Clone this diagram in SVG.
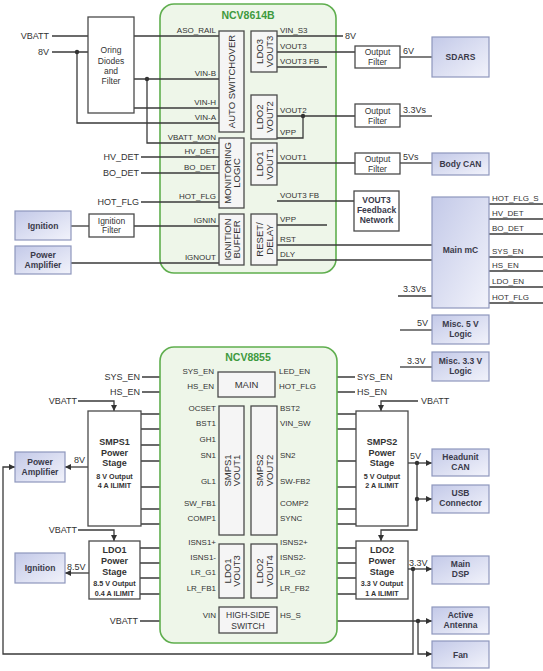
<svg xmlns="http://www.w3.org/2000/svg" width="543" height="671" viewBox="0 0 543 671">
<defs>
<linearGradient id="bg" x1="0" y1="0" x2="1" y2="1">
<stop offset="0" stop-color="#c3c9e8"/>
<stop offset="1" stop-color="#f2f3fb"/>
</linearGradient>
<marker id="ah" viewBox="0 0 7 7" refX="7" refY="3.5" markerWidth="6" markerHeight="6" markerUnits="userSpaceOnUse" orient="auto">
<path d="M0,0 L7,3.5 L0,7 Z" fill="#333"/>
</marker>
<style>
.ln{fill:none;stroke:#3a3a3a;stroke-width:1.3}
.ar{marker-end:url(#ah)}
.dot{fill:#333}
.chip{fill:#eef6e9;stroke:#5fae4e;stroke-width:1.6}
.blk{fill:#f5f5f5;stroke:#4a4a4a;stroke-width:1.3}
.wb{fill:#fff;stroke:#4a4a4a;stroke-width:1.3}
.bb{fill:url(#bg);stroke:#8e97bd;stroke-width:1.2}
text{font-family:"Liberation Sans",Arial,sans-serif;fill:#333}
.p{font-size:8px}
.pe{font-size:8px;text-anchor:end}
.o{font-size:9px}
.oe{font-size:9px;text-anchor:end}
.c{font-size:8.5px;text-anchor:middle}
.bc{font-size:8.5px;text-anchor:middle;font-weight:bold;fill:#3a3a4a}
.r{font-size:9.5px;text-anchor:middle}
.ps{font-size:9px;text-anchor:middle;font-weight:bold}
.pss{font-size:7.2px;text-anchor:middle;font-weight:bold}
.t{font-size:10.5px;font-weight:bold;fill:#3e9a3e;text-anchor:middle}
</style>
</defs>

<!-- ===== TOP CHIP NCV8614B ===== -->
<g id="ncv8614b">
<rect class="chip" x="160" y="4" width="176" height="269" rx="14"/>
<text class="t" x="248" y="19">NCV8614B</text>
</g>

<g id="connectors">
<!-- top left inputs -->
<path class="ln" d="M52,36 H88"/>
<path class="ln" d="M52,52 H88"/>
<path class="ln" d="M77,52 V123 H219"/>
<path class="ln" d="M134,36 H219"/>
<path class="ln" d="M134,79 H219"/>
<path class="ln" d="M147,79 V143 H219"/>
<path class="ln" d="M134,108 H219"/>
<path class="ln" d="M141,157 H219"/>
<path class="ln" d="M141,173 H219"/>
<path class="ln" d="M141,202 H219"/>
<path class="ln" d="M71,226 H89"/>
<path class="ln" d="M134,226 H219"/>
<path class="ln" d="M71,263 H219"/>
<!-- top right -->
<path class="ln" d="M277,36 H343"/>
<path class="ln" d="M277,52 H355"/>
<path class="ln" d="M277,67 H327"/>
<path class="ln" d="M277,116 H355"/>
<path class="ln" d="M277,138 H303 V116"/>
<path class="ln" d="M277,163 H355"/>
<path class="ln" d="M277,201 H354"/>
<path class="ln" d="M277,225 H327"/>
<path class="ln" d="M277,245 H432"/>
<path class="ln" d="M277,260 H432"/>
<path class="ln" d="M400,57 H432"/>
<path class="ln" d="M400,116 H432"/>
<path class="ln" d="M400,163 H432"/>
<path class="ln" d="M489,204 H543"/>
<path class="ln" d="M489,219 H543"/>
<path class="ln" d="M489,234 H543"/>
<path class="ln" d="M489,257 H543"/>
<path class="ln" d="M489,271 H543"/>
<path class="ln" d="M489,287 H543"/>
<path class="ln" d="M489,303 H543"/>
<path class="ln" d="M398,296 H432"/>
<path class="ln" d="M400,330 H432"/>
<path class="ln" d="M400,367 H432"/>
<circle class="dot" cx="77" cy="52" r="2.2"/>
<circle class="dot" cx="147" cy="79" r="2.2"/>
<circle class="dot" cx="303" cy="116" r="2.2"/>

<!-- lower chip -->
<path class="ln" d="M142,377 H218"/>
<path class="ln" d="M142,392 H218"/>
<path class="ln" d="M275,377 H355"/>
<path class="ln" d="M275,392 H355"/>
<path class="ln ar" d="M78,401 H114 V411"/>
<path class="ln ar" d="M418,401 H381 V411"/>
<path class="ln" d="M141,414 H219"/>
<path class="ln" d="M141,429 H219"/>
<path class="ln" d="M141,445 H219"/>
<path class="ln" d="M141,461 H219"/>
<path class="ln" d="M141,487 H219"/>
<path class="ln" d="M141,509 H219"/>
<path class="ln" d="M141,524 H219"/>
<path class="ln" d="M277,414 H356"/>
<path class="ln" d="M277,429 H356"/>
<path class="ln" d="M277,461 H356"/>
<path class="ln" d="M277,487 H356"/>
<path class="ln" d="M277,509 H356"/>
<path class="ln" d="M277,524 H356"/>
<path class="ln ar" d="M88,467 H65"/>
<path class="ln ar" d="M408,463 H432"/>
<path class="ln ar" d="M417,499 H432"/>
<path class="ln ar" d="M417,463 V530 H381 V541"/>
<path class="ln ar" d="M78,530 H114 V541"/>
<path class="ln ar" d="M89,573 H65"/>
<path class="ln" d="M140,548 H219"/>
<path class="ln" d="M140,563 H219"/>
<path class="ln" d="M140,578 H219"/>
<path class="ln" d="M140,594 H219"/>
<path class="ln" d="M277,548 H356"/>
<path class="ln" d="M277,563 H356"/>
<path class="ln" d="M277,578 H356"/>
<path class="ln" d="M277,594 H356"/>
<path class="ln ar" d="M408,569 H432"/>
<path class="ln ar" d="M413,569 V654 H3 V467 H15"/>
<path class="ln" d="M140,621 H219"/>
<path class="ln ar" d="M277,621 H432"/>
<path class="ln ar" d="M418,621 V654 H432"/>
<circle class="dot" cx="417" cy="463" r="2.2"/>
<circle class="dot" cx="417" cy="499" r="2.2"/>
<circle class="dot" cx="413" cy="569" r="2.2"/>
<circle class="dot" cx="418" cy="621" r="2.2"/>
</g>

<!-- top chip inner blocks -->
<g id="auto-switchover">
<rect class="blk" x="219" y="31" width="25" height="101"/>
<text class="r" transform="translate(231.5,81.5) rotate(-90)" y="3.5">AUTO SWITCHOVER</text>
</g>
<g id="ldo3">
<rect class="blk" x="251" y="31" width="26" height="41"/>
<g transform="translate(264,51.5) rotate(-90)"><text class="r" y="-1">LDO3</text><text class="r" y="8.5">VOUT3</text></g>
</g>
<g id="ldo2">
<rect class="blk" x="251" y="95" width="26" height="44"/>
<g transform="translate(264,117) rotate(-90)"><text class="r" y="-1">LDO2</text><text class="r" y="8.5">VOUT2</text></g>
</g>
<g id="ldo1">
<rect class="blk" x="251" y="143" width="26" height="42"/>
<g transform="translate(264,164) rotate(-90)"><text class="r" y="-1">LDO1</text><text class="r" y="8.5">VOUT1</text></g>
</g>
<g id="monitoring-logic">
<rect class="blk" x="219" y="138" width="25" height="70"/>
<g transform="translate(231.5,173) rotate(-90)"><text class="r" y="-1">MONITORING</text><text class="r" y="8.5">LOGIC</text></g>
</g>
<g id="ignition-buffer">
<rect class="blk" x="219" y="214" width="25" height="51"/>
<g transform="translate(231.5,239.5) rotate(-90)"><text class="r" y="-1">IGNITION</text><text class="r" y="8.5">BUFFER</text></g>
</g>
<g id="reset-delay">
<rect class="blk" x="251" y="214" width="26" height="51"/>
<g transform="translate(264,239.5) rotate(-90)"><text class="r" y="-1">RESET/</text><text class="r" y="8.5">DELAY</text></g>
</g>

<!-- top chip pin labels -->
<g id="top-pins">
<text class="pe" x="216" y="33">ASO_RAIL</text>
<text class="pe" x="216" y="76">VIN-B</text>
<text class="pe" x="216" y="105">VIN-H</text>
<text class="pe" x="216" y="120">VIN-A</text>
<text class="pe" x="216" y="140">VBATT_MON</text>
<text class="pe" x="216" y="154">HV_DET</text>
<text class="pe" x="216" y="170">BO_DET</text>
<text class="pe" x="216" y="199">HOT_FLG</text>
<text class="pe" x="216" y="223">IGNIN</text>
<text class="pe" x="216" y="260">IGNOUT</text>
<text class="p" x="280" y="33">VIN_S3</text>
<text class="p" x="280" y="49">VOUT3</text>
<text class="p" x="280" y="64">VOUT3 FB</text>
<text class="p" x="280" y="113">VOUT2</text>
<text class="p" x="280" y="135">VPP</text>
<text class="p" x="280" y="160">VOUT1</text>
<text class="p" x="280" y="198">VOUT3 FB</text>
<text class="p" x="280" y="222">VPP</text>
<text class="p" x="280" y="242">RST</text>
<text class="p" x="280" y="257">DLY</text>
</g>

<!-- top outer labels -->
<g id="top-labels">
<text class="oe" x="49" y="39">VBATT</text>
<text class="oe" x="49" y="55">8V</text>
<text class="oe" x="139" y="160">HV_DET</text>
<text class="oe" x="139" y="176">BO_DET</text>
<text class="oe" x="139" y="205">HOT_FLG</text>
<text class="o" x="345" y="39">8V</text>
<text class="o" x="403" y="54">6V</text>
<text class="o" x="403" y="113">3.3Vs</text>
<text class="o" x="403" y="160">5Vs</text>
<text class="o" x="403" y="292">3.3Vs</text>
<text class="o" x="417" y="326">5V</text>
<text class="o" x="407" y="364">3.3V</text>
<text class="p" x="492" y="201">HOT_FLG_S</text>
<text class="p" x="492" y="216">HV_DET</text>
<text class="p" x="492" y="231">BO_DET</text>
<text class="p" x="492" y="254">SYS_EN</text>
<text class="p" x="492" y="268">HS_EN</text>
<text class="p" x="492" y="284">LDO_EN</text>
<text class="p" x="492" y="300">HOT_FLG</text>
</g>

<g id="oring">
<rect class="wb" x="88" y="17" width="46" height="96"/>
<text class="c" x="111" y="53">Oring</text>
<text class="c" x="111" y="64">Diodes</text>
<text class="c" x="111" y="74">and</text>
<text class="c" x="111" y="84">Filter</text>
</g>
<g id="ignition-top">
<rect class="bb" x="15" y="211" width="56" height="29"/>
<text class="bc" x="43" y="228.5">Ignition</text>
</g>
<g id="ignition-filter">
<rect class="wb" x="89" y="214" width="45" height="23"/>
<text class="c" x="111.5" y="224">Ignition</text>
<text class="c" x="111.5" y="233">Filter</text>
</g>
<g id="power-amp-top">
<rect class="bb" x="15" y="246" width="56" height="28"/>
<text class="bc" x="43" y="258">Power</text>
<text class="bc" x="43" y="268">Amplifier</text>
</g>
<g id="filter1">
<rect class="wb" x="355" y="46" width="45" height="22"/>
<text class="c" x="377.5" y="55">Output</text>
<text class="c" x="377.5" y="65">Filter</text>
</g>
<g id="filter2">
<rect class="wb" x="355" y="104" width="45" height="23"/>
<text class="c" x="377.5" y="113.5">Output</text>
<text class="c" x="377.5" y="123.5">Filter</text>
</g>
<g id="filter3">
<rect class="wb" x="355" y="153" width="45" height="21"/>
<text class="c" x="377.5" y="161.5">Output</text>
<text class="c" x="377.5" y="171.5">Filter</text>
</g>
<g id="sdars">
<rect class="bb" x="432" y="37" width="57" height="40"/>
<text class="bc" x="460.5" y="60">SDARS</text>
</g>
<g id="body-can">
<rect class="bb" x="432" y="153" width="57" height="22"/>
<text class="bc" x="460.5" y="167">Body CAN</text>
</g>
<g id="vout3-fb-net">
<rect class="wb" x="354" y="191" width="45" height="40"/>
<text class="bc" x="376.5" y="203">VOUT3</text>
<text class="bc" x="376.5" y="213">Feedback</text>
<text class="bc" x="376.5" y="223">Network</text>
</g>
<g id="main-mc">
<rect class="bb" x="432" y="197" width="57" height="111"/>
<text class="bc" x="460.5" y="253">Main mC</text>
</g>
<g id="misc5">
<rect class="bb" x="432" y="315" width="57" height="29"/>
<text class="bc" x="460.5" y="327">Misc. 5 V</text>
<text class="bc" x="460.5" y="337">Logic</text>
</g>
<g id="misc33">
<rect class="bb" x="432" y="352" width="57" height="29"/>
<text class="bc" x="460.5" y="364">Misc. 3.3 V</text>
<text class="bc" x="460.5" y="374">Logic</text>
</g>

<!-- ===== LOWER CHIP NCV8855 ===== -->
<g id="ncv8855">
<rect class="chip" x="160" y="347" width="177" height="296" rx="14"/>
<text class="t" x="248" y="361">NCV8855</text>
</g>
<g id="main">
<rect class="blk" x="218" y="372" width="57" height="25"/>
<text class="r" x="246.5" y="388">MAIN</text>
</g>
<g id="smps1-vout1">
<rect class="blk" x="219" y="406" width="25" height="129"/>
<g transform="translate(231.5,470.5) rotate(-90)"><text class="r" y="-1">SMPS1</text><text class="r" y="8.5">VOUT1</text></g>
</g>
<g id="smps2-vout2">
<rect class="blk" x="251" y="406" width="26" height="129"/>
<g transform="translate(264,470.5) rotate(-90)"><text class="r" y="-1">SMPS2</text><text class="r" y="8.5">VOUT2</text></g>
</g>
<g id="ldo1-vout3">
<rect class="blk" x="219" y="544" width="25" height="54"/>
<g transform="translate(231.5,571) rotate(-90)"><text class="r" y="-1">LDO1</text><text class="r" y="8.5">VOUT3</text></g>
</g>
<g id="ldo2-vout4">
<rect class="blk" x="251" y="544" width="26" height="54"/>
<g transform="translate(264,571) rotate(-90)"><text class="r" y="-1">LDO2</text><text class="r" y="8.5">VOUT4</text></g>
</g>
<g id="high-side-switch">
<rect class="blk" x="219" y="607" width="58" height="26"/>
<text class="c" x="248" y="618">HIGH-SIDE</text>
<text class="c" x="248" y="628.5">SWITCH</text>
</g>

<g id="lower-pins">
<text class="pe" x="214" y="374">SYS_EN</text>
<text class="pe" x="214" y="389">HS_EN</text>
<text class="p" x="279" y="374">LED_EN</text>
<text class="p" x="279" y="389">HOT_FLG</text>
<text class="pe" x="216" y="411">OCSET</text>
<text class="pe" x="216" y="426">BST1</text>
<text class="pe" x="216" y="442">GH1</text>
<text class="pe" x="216" y="458">SN1</text>
<text class="pe" x="216" y="484">GL1</text>
<text class="pe" x="216" y="506">SW_FB1</text>
<text class="pe" x="216" y="521">COMP1</text>
<text class="p" x="280" y="411">BST2</text>
<text class="p" x="280" y="426">VIN_SW</text>
<text class="p" x="280" y="458">SN2</text>
<text class="p" x="280" y="484">SW-FB2</text>
<text class="p" x="280" y="506">COMP2</text>
<text class="p" x="280" y="521">SYNC</text>
<text class="pe" x="216" y="545">ISNS1+</text>
<text class="pe" x="216" y="560">ISNS1-</text>
<text class="pe" x="216" y="575">LR_G1</text>
<text class="pe" x="216" y="591">LR_FB1</text>
<text class="p" x="280" y="545">ISNS2+</text>
<text class="p" x="280" y="560">ISNS2-</text>
<text class="p" x="280" y="575">LR_G2</text>
<text class="p" x="280" y="591">LR_FB2</text>
<text class="pe" x="216" y="618">VIN</text>
<text class="p" x="280" y="618">HS_S</text>
</g>

<g id="lower-labels">
<text class="oe" x="140" y="380">SYS_EN</text>
<text class="oe" x="140" y="395">HS_EN</text>
<text class="o" x="357" y="380">SYS_EN</text>
<text class="o" x="357" y="395">HS_EN</text>
<text class="oe" x="77" y="404">VBATT</text>
<text class="o" x="421" y="404">VBATT</text>
<text class="o" x="74" y="463">8V</text>
<text class="o" x="410" y="459">5V</text>
<text class="oe" x="77" y="533">VBATT</text>
<text class="o" x="67" y="570">8.5V</text>
<text class="o" x="409" y="566">3.3V</text>
<text class="oe" x="138" y="624">VBATT</text>
</g>

<g id="smps1-ps">
<rect class="wb" x="88" y="411" width="53" height="115"/>
<text class="ps" x="114.5" y="445">SMPS1</text>
<text class="ps" x="114.5" y="455.5">Power</text>
<text class="ps" x="114.5" y="466">Stage</text>
<text class="pss" x="114.5" y="479">8 V Output</text>
<text class="pss" x="114.5" y="488">4 A ILIMIT</text>
</g>
<g id="smps2-ps">
<rect class="wb" x="356" y="411" width="52" height="115"/>
<text class="ps" x="382" y="445">SMPS2</text>
<text class="ps" x="382" y="455.5">Power</text>
<text class="ps" x="382" y="466">Stage</text>
<text class="pss" x="382" y="479">5 V Output</text>
<text class="pss" x="382" y="488">2 A ILIMIT</text>
</g>
<g id="ldo1-ps">
<rect class="wb" x="89" y="541" width="51" height="58"/>
<text class="ps" x="114.5" y="553">LDO1</text>
<text class="ps" x="114.5" y="564">Power</text>
<text class="ps" x="114.5" y="574.5">Stage</text>
<text class="pss" x="114.5" y="586">8.5 V Output</text>
<text class="pss" x="114.5" y="596">0.4 A ILIMIT</text>
</g>
<g id="ldo2-ps">
<rect class="wb" x="356" y="541" width="52" height="58"/>
<text class="ps" x="382" y="553">LDO2</text>
<text class="ps" x="382" y="564">Power</text>
<text class="ps" x="382" y="574.5">Stage</text>
<text class="pss" x="382" y="586">3.3 V Output</text>
<text class="pss" x="382" y="596">1 A ILIMIT</text>
</g>
<g id="power-amp-low">
<rect class="bb" x="15" y="452" width="50" height="30"/>
<text class="bc" x="40" y="465">Power</text>
<text class="bc" x="40" y="475">Amplifier</text>
</g>
<g id="ignition-low">
<rect class="bb" x="15" y="553" width="50" height="30"/>
<text class="bc" x="40" y="571">Ignition</text>
</g>
<g id="headunit-can">
<rect class="bb" x="432" y="449" width="57" height="27"/>
<text class="bc" x="460.5" y="460">Headunit</text>
<text class="bc" x="460.5" y="470">CAN</text>
</g>
<g id="usb">
<rect class="bb" x="432" y="485" width="57" height="28"/>
<text class="bc" x="460.5" y="496">USB</text>
<text class="bc" x="460.5" y="506">Connector</text>
</g>
<g id="main-dsp">
<rect class="bb" x="432" y="556" width="57" height="28"/>
<text class="bc" x="460.5" y="567">Main</text>
<text class="bc" x="460.5" y="577">DSP</text>
</g>
<g id="active-antenna">
<rect class="bb" x="432" y="607" width="57" height="27"/>
<text class="bc" x="460.5" y="618">Active</text>
<text class="bc" x="460.5" y="628">Antenna</text>
</g>
<g id="fan">
<rect class="bb" x="432" y="641" width="57" height="27"/>
<text class="bc" x="460.5" y="657.5">Fan</text>
</g>
</svg>
